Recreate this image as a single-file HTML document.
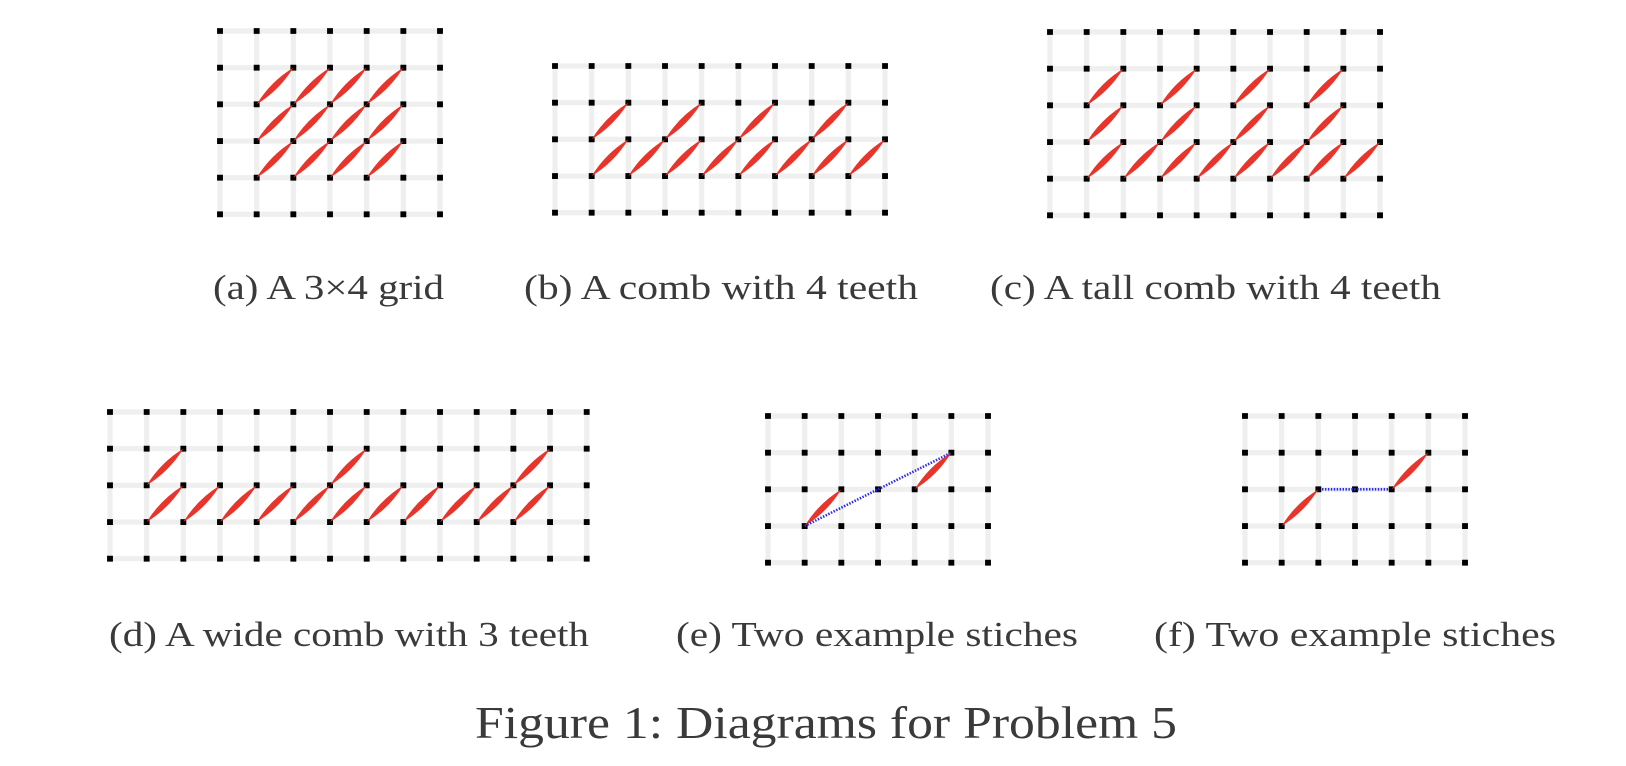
<!DOCTYPE html>
<html><head><meta charset="utf-8"><style>
html,body{margin:0;padding:0;background:#fff;}
svg{display:block}
text{font-family:"Liberation Serif",serif;fill:#3a3a3a;}
</style></head><body>
<svg width="1626" height="766" viewBox="0 0 1626 766" xmlns="http://www.w3.org/2000/svg">
<defs>
<path id="st" d="M0,0 Q0.38,-0.62 1,-1 Q0.62,-0.38 0,0Z" fill="#e8352b"/>
</defs>

<!-- (a) -->
<g transform="translate(220,31) scale(36.67)">
<g stroke="#efefef" stroke-width="0.14">
<path d="M0,0H6M0,1H6M0,2H6M0,3H6M0,4H6M0,5H6M0,0V5M1,0V5M2,0V5M3,0V5M4,0V5M5,0V5M6,0V5"/>
</g>
<g stroke="#000" stroke-width="0.16" stroke-dasharray="0.16 0.84">
<path d="M-0.08,0H6.1M-0.08,1H6.1M-0.08,2H6.1M-0.08,3H6.1M-0.08,4H6.1M-0.08,5H6.1"/>
</g>
<use href="#st" x="1" y="2"/><use href="#st" x="2" y="2"/><use href="#st" x="3" y="2"/><use href="#st" x="4" y="2"/>
<use href="#st" x="1" y="3"/><use href="#st" x="2" y="3"/><use href="#st" x="3" y="3"/><use href="#st" x="4" y="3"/>
<use href="#st" x="1" y="4"/><use href="#st" x="2" y="4"/><use href="#st" x="3" y="4"/><use href="#st" x="4" y="4"/>
</g>

<!-- (b) -->
<g transform="translate(555,66) scale(36.67)">
<g stroke="#efefef" stroke-width="0.14">
<path d="M0,0H9M0,1H9M0,2H9M0,3H9M0,4H9M0,0V4M1,0V4M2,0V4M3,0V4M4,0V4M5,0V4M6,0V4M7,0V4M8,0V4M9,0V4"/>
</g>
<g stroke="#000" stroke-width="0.16" stroke-dasharray="0.16 0.84">
<path d="M-0.08,0H9.1M-0.08,1H9.1M-0.08,2H9.1M-0.08,3H9.1M-0.08,4H9.1"/>
</g>
<use href="#st" x="1" y="2"/><use href="#st" x="3" y="2"/><use href="#st" x="5" y="2"/><use href="#st" x="7" y="2"/>
<use href="#st" x="1" y="3"/><use href="#st" x="2" y="3"/><use href="#st" x="3" y="3"/><use href="#st" x="4" y="3"/>
<use href="#st" x="5" y="3"/><use href="#st" x="6" y="3"/><use href="#st" x="7" y="3"/><use href="#st" x="8" y="3"/>
</g>

<!-- (c) -->
<g transform="translate(1050,32) scale(36.67)">
<g stroke="#efefef" stroke-width="0.14">
<path d="M0,0H9M0,1H9M0,2H9M0,3H9M0,4H9M0,5H9M0,0V5M1,0V5M2,0V5M3,0V5M4,0V5M5,0V5M6,0V5M7,0V5M8,0V5M9,0V5"/>
</g>
<g stroke="#000" stroke-width="0.16" stroke-dasharray="0.16 0.84">
<path d="M-0.08,0H9.1M-0.08,1H9.1M-0.08,2H9.1M-0.08,3H9.1M-0.08,4H9.1M-0.08,5H9.1"/>
</g>
<use href="#st" x="1" y="2"/><use href="#st" x="3" y="2"/><use href="#st" x="5" y="2"/><use href="#st" x="7" y="2"/>
<use href="#st" x="1" y="3"/><use href="#st" x="3" y="3"/><use href="#st" x="5" y="3"/><use href="#st" x="7" y="3"/>
<use href="#st" x="1" y="4"/><use href="#st" x="2" y="4"/><use href="#st" x="3" y="4"/><use href="#st" x="4" y="4"/>
<use href="#st" x="5" y="4"/><use href="#st" x="6" y="4"/><use href="#st" x="7" y="4"/><use href="#st" x="8" y="4"/>
</g>

<!-- (d) -->
<g transform="translate(110,412) scale(36.67)">
<g stroke="#efefef" stroke-width="0.14">
<path d="M0,0H13M0,1H13M0,2H13M0,3H13M0,4H13M0,0V4M1,0V4M2,0V4M3,0V4M4,0V4M5,0V4M6,0V4M7,0V4M8,0V4M9,0V4M10,0V4M11,0V4M12,0V4M13,0V4"/>
</g>
<g stroke="#000" stroke-width="0.16" stroke-dasharray="0.16 0.84">
<path d="M-0.08,0H13.1M-0.08,1H13.1M-0.08,2H13.1M-0.08,3H13.1M-0.08,4H13.1"/>
</g>
<use href="#st" x="1" y="2"/><use href="#st" x="6" y="2"/><use href="#st" x="11" y="2"/>
<use href="#st" x="1" y="3"/><use href="#st" x="2" y="3"/><use href="#st" x="3" y="3"/><use href="#st" x="4" y="3"/>
<use href="#st" x="5" y="3"/><use href="#st" x="6" y="3"/><use href="#st" x="7" y="3"/><use href="#st" x="8" y="3"/>
<use href="#st" x="9" y="3"/><use href="#st" x="10" y="3"/><use href="#st" x="11" y="3"/>
</g>

<!-- (e) -->
<g transform="translate(768,416) scale(36.67)">
<g stroke="#efefef" stroke-width="0.14">
<path d="M0,0H6M0,1H6M0,2H6M0,3H6M0,4H6M0,0V4M1,0V4M2,0V4M3,0V4M4,0V4M5,0V4M6,0V4"/>
</g>
<g stroke="#000" stroke-width="0.16" stroke-dasharray="0.16 0.84">
<path d="M-0.08,0H6.1M-0.08,1H6.1M-0.08,2H6.1M-0.08,3H6.1M-0.08,4H6.1"/>
</g>
<use href="#st" x="1" y="3"/><use href="#st" x="4" y="2"/>
<path d="M1,3L5,1" stroke="#2a2ae8" stroke-width="0.07" stroke-dasharray="0.04 0.04" fill="none"/>
</g>

<!-- (f) -->
<g transform="translate(1245,416) scale(36.67)">
<g stroke="#efefef" stroke-width="0.14">
<path d="M0,0H6M0,1H6M0,2H6M0,3H6M0,4H6M0,0V4M1,0V4M2,0V4M3,0V4M4,0V4M5,0V4M6,0V4"/>
</g>
<g stroke="#000" stroke-width="0.16" stroke-dasharray="0.16 0.84">
<path d="M-0.08,0H6.1M-0.08,1H6.1M-0.08,2H6.1M-0.08,3H6.1M-0.08,4H6.1"/>
</g>
<use href="#st" x="1" y="3"/><use href="#st" x="4" y="2"/>
<path d="M2.1,2L3.9,2" stroke="#2a2ae8" stroke-width="0.07" stroke-dasharray="0.04 0.04" fill="none"/>
</g>

<g font-size="35">
<text x="213" y="299" textLength="231" lengthAdjust="spacingAndGlyphs">(a) A 3×4 grid</text>
<text x="524" y="299" textLength="394" lengthAdjust="spacingAndGlyphs">(b) A comb with 4 teeth</text>
<text x="990" y="299" textLength="451" lengthAdjust="spacingAndGlyphs">(c) A tall comb with 4 teeth</text>
<text x="109" y="646" textLength="480" lengthAdjust="spacingAndGlyphs">(d) A wide comb with 3 teeth</text>
<text x="676" y="646" textLength="402" lengthAdjust="spacingAndGlyphs">(e) Two example stiches</text>
<text x="1154" y="646" textLength="402" lengthAdjust="spacingAndGlyphs">(f) Two example stiches</text>
</g>
<text x="475" y="738" font-size="46" textLength="702" lengthAdjust="spacingAndGlyphs">Figure 1: Diagrams for Problem 5</text>
</svg>
</body></html>
